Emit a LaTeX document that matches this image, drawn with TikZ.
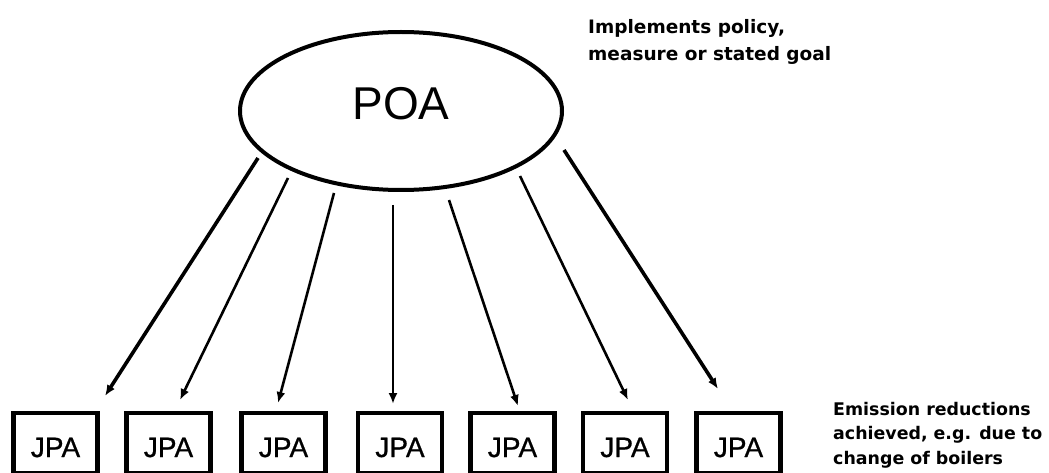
\documentclass[tikz,border=0pt]{standalone}
\usepackage{fontspec}
\setmainfont{Liberation Sans}
\newfontfamily\notefont{DejaVu Sans}
\newfontfamily\boxfont[FakeBold=0.8]{Liberation Sans}
\usetikzlibrary{arrows.meta,shapes.geometric}
\tikzset{
	jpa/.style={draw,line width=4.5pt,minimum width=84pt,minimum height=60pt,inner sep=0pt,
		text height=28pt,text depth=0pt,font=\boxfont\fontsize{28}{30}\selectfont},
	note/.style={anchor=north west,align=left,inner sep=0pt,font=\notefont\bfseries\fontsize{18.5}{26}\selectfont},
	link/.style={-{Latex[length=11pt,width=9pt]},line width=2.6pt},
}
\begin{document}
\begin{tikzpicture}[x=1pt,y=-1pt]
	\useasboundingbox (0,0) rectangle (1049,473);
	\node (poa) at (401,111) [draw,ellipse,line width=4pt,minimum width=322pt,minimum height=158pt,
		inner sep=0pt,text depth=16pt,font=\fontsize{46}{48}\selectfont] {POA};
	\foreach \i/\x in {1/55.5,2/168.5,3/283.5,4/400,5/512.5,6/625,7/738.5}
		\node (j\i) at (\x,443) [jpa] {JPA};
	\node (goal) at (588,19) [note,font=\notefont\bfseries\fontsize{18.5}{27}\selectfont] {Implements policy,\\measure or stated goal};
	\node (red) at (833,402) [note,font=\notefont\bfseries\fontsize{17.4}{24.5}\selectfont] {Emission reductions\\achieved, e.g. due to\\change of boilers};
	\coordinate (a1) at (258,158); \coordinate (b1) at (105,396);
	\coordinate (a2) at (288,178); \coordinate (b2) at (180,400);
	\coordinate (a3) at (334,193); \coordinate (b3) at (278,403);
	\coordinate (a4) at (393,205); \coordinate (b4) at (393,404);
	\coordinate (a5) at (449,200); \coordinate (b5) at (518,406);
	\coordinate (a6) at (520,176); \coordinate (b6) at (628,400);
	\coordinate (a7) at (564,150); \coordinate (b7) at (718,389);
	\draw [link,line width=3.6pt] (a1)--(b1);
	\draw [link] (a2)--(b2);
	\draw [link] (a3)--(b3);
	\draw [link,line width=2.4pt] (a4)--(b4);
	\draw [link] (a5)--(b5);
	\draw [link] (a6)--(b6);
	\draw [link,line width=3.6pt] (a7)--(b7);
\end{tikzpicture}
\end{document}
